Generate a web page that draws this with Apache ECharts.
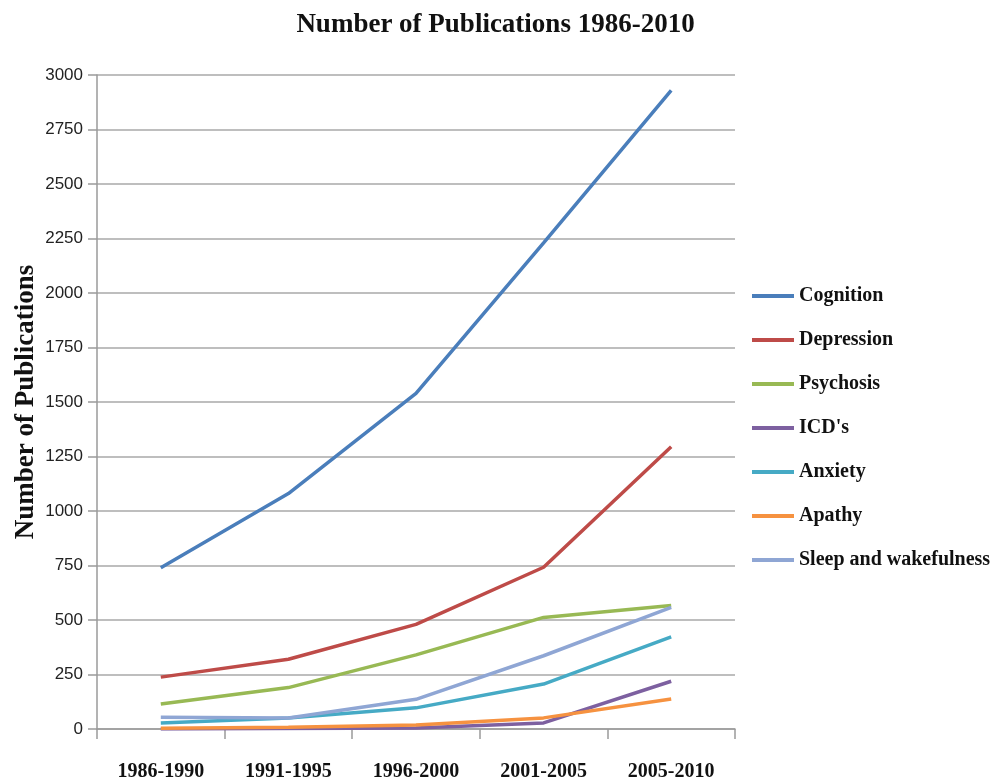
<!DOCTYPE html>
<html>
<head>
<meta charset="utf-8">
<title>Number of Publications 1986-2010</title>
<script src="https://cdn.jsdelivr.net/npm/echarts@6/dist/echarts.min.js"></script>
<style>
  html, body { margin: 0; padding: 0; background: #ffffff; }
  #chart { width: 991px; height: 780px; }
</style>
</head>
<body>
<div id="chart"></div>
<script>
// Publication counts per five-year period, one array per topic
const periods = ['1986-1990', '1991-1995', '1996-2000', '2001-2005', '2005-2010'];
const cognition  = [740, 1080, 1540, 2230, 2930];
const depression = [238, 320, 480, 742, 1295];
const psychosis  = [115, 190, 340, 512, 566];
const icds       = [0, 2, 5, 28, 219];
const anxiety    = [28, 50, 97, 206, 423];
const apathy     = [3, 8, 18, 51, 138];
const sleep      = [54, 50, 136, 336, 558];

const seriesNames = ['Cognition', 'Depression', 'Psychosis', "ICD's", 'Anxiety', 'Apathy', 'Sleep and wakefulness'];
const seriesData  = [cognition, depression, psychosis, icds, anxiety, apathy, sleep];
const seriesColors = ['#4A7EBB', '#BE4B48', '#98B954', '#7D60A0', '#46AAC5', '#F69240', '#8FA6D4'];

const serif = '"Liberation Serif", "Times New Roman", serif';

const chart = echarts.init(document.getElementById('chart'), null, { renderer: 'canvas' });

chart.setOption({
  animation: false,
  backgroundColor: '#ffffff',
  title: {
    text: 'Number of Publications 1986-2010',
    left: 'center',
    top: 7,
    textStyle: { fontFamily: serif, fontWeight: 'bold', fontSize: 27, color: '#111111' }
  },
  legend: {
    orient: 'vertical',
    left: 747,
    top: 279,
    itemWidth: 42,
    itemHeight: 4,
    itemGap: 20,
    icon: 'rect',
    data: seriesNames,
    textStyle: { fontFamily: serif, fontWeight: 'bold', fontSize: 20, lineHeight: 24, color: '#111111' }
  },
  grid: { left: 97, right: 256, top: 75, bottom: 51, containLabel: false, outerBoundsMode: 'none' },
  xAxis: {
    type: 'category',
    data: periods,
    boundaryGap: true,
    axisLine: { lineStyle: { color: '#9A9A9A', width: 1.5 } },
    axisTick: { show: true, length: 10, alignWithLabel: false, lineStyle: { color: '#9A9A9A', width: 1.5 } },
    axisLabel: { margin: 33, fontFamily: serif, fontWeight: 'bold', fontSize: 20, color: '#111111' }
  },
  yAxis: {
    type: 'value',
    min: 0,
    max: 3000,
    interval: 250,
    name: 'Number of Publications',
    nameLocation: 'middle',
    nameGap: 57,
    nameMoveOverlap: false,
    nameRotate: 90,
    nameTextStyle: { fontFamily: serif, fontWeight: 'bold', fontSize: 27, color: '#111111' },
    axisLine: { show: true, lineStyle: { color: '#9A9A9A', width: 1.5 } },
    axisTick: { show: true, length: 9, lineStyle: { color: '#9A9A9A', width: 1.5 } },
    axisLabel: {
      margin: 14,
      fontFamily: '"Liberation Sans", Arial, sans-serif',
      fontSize: 17,
      color: '#222222',
      formatter: (v) => String(v)
    },
    splitLine: { show: true, lineStyle: { color: '#A8A8A8', width: 1.6 } }
  },
  series: seriesNames.map((name, i) => ({
    name: name,
    type: 'line',
    data: seriesData[i],
    showSymbol: false,
    symbol: 'none',
    smooth: false,
    color: seriesColors[i],
    lineStyle: { color: seriesColors[i], width: 3.5 }
  }))
});
</script>
</body>
</html>
